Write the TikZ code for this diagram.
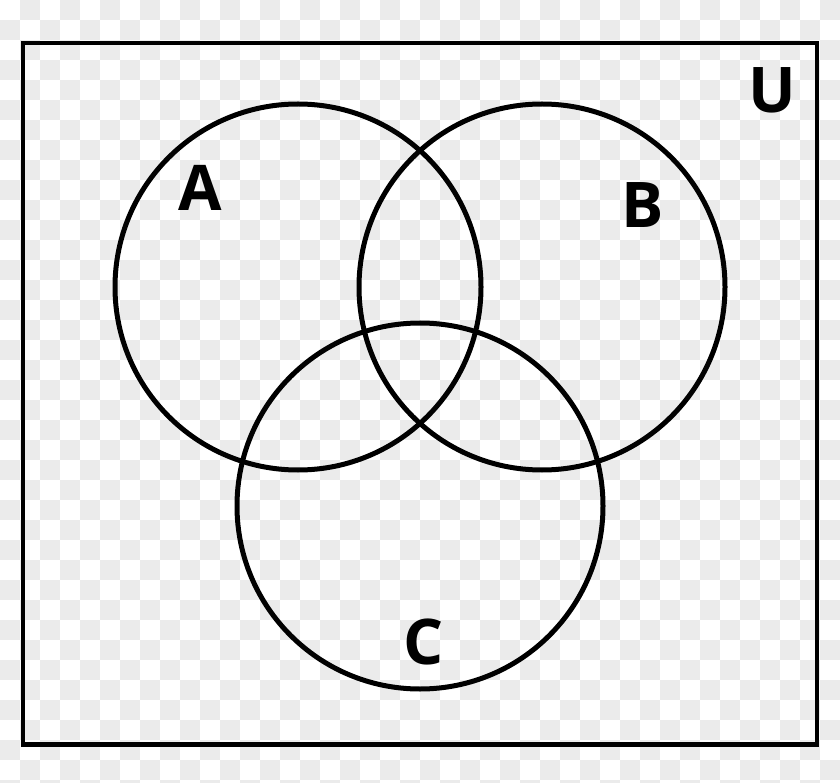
\documentclass[tikz,border=0pt]{standalone}
\usepackage{fontspec}
\setmainfont{Open Sans}
\definecolor{checkgray}{HTML}{EBEBEB}
\tikzset{
  setcircle/.style={circle, draw=black, line width=5pt, minimum size=366pt, inner sep=0pt},
  setlabel/.style={inner sep=0pt, font=\fontsize{63}{63}\selectfont\bfseries},
  universe/.style={rectangle, draw=black, line width=4.5pt, inner sep=0pt}
}
\begin{document}
\begin{tikzpicture}[x=1pt, y=-1pt]
\useasboundingbox (0,0) rectangle (840,783);
\fill[white] (0,0) rectangle (840,783);
\foreach \i in {0,...,41}{
  \foreach \j in {0,...,39}{
    \pgfmathtruncatemacro{\parity}{mod(\i+\j,2)}
    \ifnum\parity=1
      \fill[checkgray] (\i*20,\j*20) rectangle (\i*20+20,\j*20+20);
    \fi
  }
}
\node[universe, minimum width=794pt, minimum height=701.5pt] (U) at (420,393.75) {};
\node[setcircle] (A) at (298,287) {};
\node[setcircle] (B) at (542,287) {};
\node[setcircle] (C) at (420,506) {};
\node[setlabel] (la) at (200,188) {A};
\node[setlabel] (lb) at (643,205) {B};
\node[setlabel] (lc) at (424,642) {C};
\node[setlabel] (lu) at (772,90) {U};
\end{tikzpicture}
\end{document}
